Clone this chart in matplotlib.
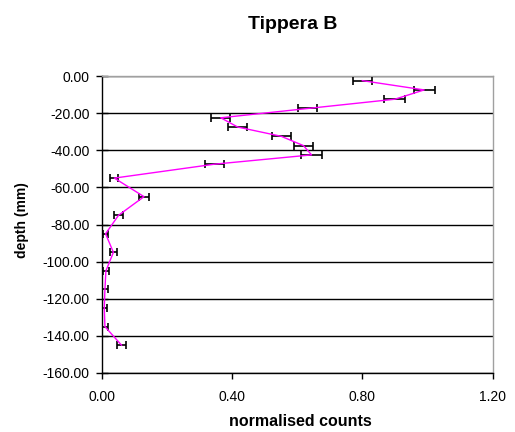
import matplotlib
matplotlib.use("Agg")
import matplotlib.pyplot as plt
from matplotlib.ticker import FormatStrFormatter, MultipleLocator

plt.rcParams['font.family'] = ['Liberation Sans', 'DejaVu Sans']

depth = [-2.5, -7.5, -12.5, -17.5, -22.5, -27.5, -32.5, -37.5, -42.5, -47.5,
         -55, -65, -75, -85, -95, -105, -115, -125, -135, -145]
counts = [0.80, 0.99, 0.90, 0.632, 0.365, 0.417, 0.551, 0.619, 0.644, 0.346,
          0.038, 0.129, 0.051, 0.011, 0.035, 0.012, 0.009, 0.007, 0.009, 0.060]
err = [0.030, 0.032, 0.032, 0.030, 0.029, 0.029, 0.029, 0.030, 0.032, 0.029,
       0.012, 0.014, 0.014, 0.007, 0.011, 0.010, 0.009, 0.007, 0.009, 0.013]

W, H = 515, 432
fig = plt.figure(figsize=(W / 100, H / 100), dpi=100)
ax = fig.add_axes([102 / W, 1 - 373 / H, (492.5 - 102) / W, (373 - 76) / H])

ax.errorbar(counts, depth, xerr=err, fmt='none', ecolor='black',
            elinewidth=1.2, capsize=2.6, capthick=1.2, zorder=3)
ax.plot(counts, depth, color='#FF00FF', linewidth=1.0, zorder=4)

ax.set_xlim(0, 1.2)
ax.set_ylim(-160, 0)
ax.xaxis.set_major_locator(MultipleLocator(0.4))
ax.yaxis.set_major_locator(MultipleLocator(20))
ax.xaxis.set_major_formatter(FormatStrFormatter('%.2f'))
ax.yaxis.set_major_formatter(FormatStrFormatter('%.2f'))

ax.grid(axis='y', color='black', linewidth=1.0)
ax.set_axisbelow(True)

for s in ['left', 'bottom']:
    ax.spines[s].set_color('black')
    ax.spines[s].set_linewidth(1.0)
for s in ['top', 'right']:
    ax.spines[s].set_color('#a0a0a0')
    ax.spines[s].set_linewidth(1.0)

ax.tick_params(axis='y', direction='inout', length=8, width=1, labelsize=10, pad=5)
ax.tick_params(axis='x', direction='out', length=4, width=1, labelsize=10, pad=8)

fig.text(300 / W, 1 - 426 / H, 'normalised counts', fontsize=11.5,
         fontweight='bold', ha='center', va='baseline')
fig.text(22.5 / W, 1 - 220 / H, 'depth (mm)', fontsize=10, fontweight='bold',
         rotation=90, ha='center', va='center')
fig.text(293 / W, 1 - 29.3 / H, 'Tippera B', fontsize=14, fontweight='bold',
         ha='center', va='baseline')

fig.savefig('out.png', dpi=100)
